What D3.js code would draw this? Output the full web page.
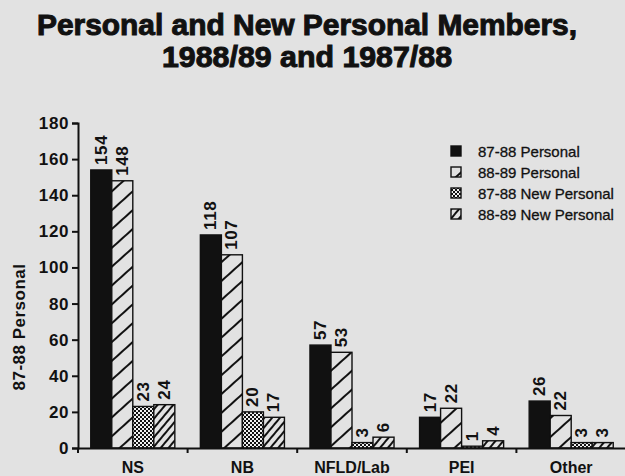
<!DOCTYPE html>
<html><head><meta charset="utf-8">
<script src="https://cdn.jsdelivr.net/npm/d3@7"></script>
<style>
html,body{margin:0;padding:0;background:#e2e2e2;}
svg{display:block;}
text{font-family:"Liberation Sans",Arial,Helvetica,sans-serif;fill:#111;}
</style></head>
<body>
<svg id="chart" width="625" height="476"></svg>
<script>
// ---- data ----
const categories = ["NS", "NB", "NFLD/Lab", "PEI", "Other"];
const seriesNames = ["87-88 Personal", "88-89 Personal", "87-88 New Personal", "88-89 New Personal"];
const personal8788 = [154, 118, 57, 17, 26];
const personal8889 = [148, 107, 53, 22, 18];      // bar heights as drawn
const personal8889Labels = ["148", "107", "53", "22", "22"]; // printed labels
const newPersonal8788 = [23, 20, 3, 1, 3];
const newPersonal8889 = [24, 17, 6, 4, 3];
const yTicks = [0, 20, 40, 60, 80, 100, 120, 140, 160, 180];
const titleLines = ["Personal and New Personal Members,", "1988/89 and 1987/88"];
const yTitle = "87-88 Personal";

const seriesValues = [personal8788, personal8889, newPersonal8788, newPersonal8889];
const seriesLabels = [personal8788.map(String), personal8889Labels, newPersonal8788.map(String), newPersonal8889.map(String)];

const svg = d3.select("#chart");
const bg = "#e2e2e2";
const ink = "#111";

// patterns
const defs = svg.append("defs");
function hatch(id, spacing, angle, sw) {
  const p = defs.append("pattern").attr("id", id).attr("patternUnits", "userSpaceOnUse")
    .attr("width", 40).attr("height", spacing).attr("patternTransform", `rotate(${angle})`);
  p.append("rect").attr("width", 40).attr("height", spacing).attr("fill", bg);
  p.append("line").attr("x1", 0).attr("x2", 40).attr("y1", spacing / 2).attr("y2", spacing / 2)
    .attr("stroke", ink).attr("stroke-width", sw);
}
hatch("hatchWide", 14, -42, 2);
hatch("hatchDense", 6, -50, 1.8);
const chk = defs.append("pattern").attr("id", "checker").attr("patternUnits", "userSpaceOnUse")
  .attr("width", 4).attr("height", 4);
chk.append("rect").attr("width", 4).attr("height", 4).attr("fill", "#f0f0f0");
chk.append("rect").attr("width", 2).attr("height", 2).attr("fill", ink);
chk.append("rect").attr("x", 2).attr("y", 2).attr("width", 2).attr("height", 2).attr("fill", ink);

const fills = [ink, "url(#hatchWide)", "url(#checker)", "url(#hatchDense)"];

// scales
const x = d3.scaleBand().domain(categories).range([78, 626]).paddingInner(0.233).paddingOuter(0.1165);
const xs = d3.scaleBand().domain(seriesNames).range([0, x.bandwidth()]);
const y = d3.scaleLinear().domain([0, 180]).range([448, 123]);

// title
svg.append("text").attr("x", 307).attr("y", 35).attr("text-anchor", "middle")
  .attr("font-size", 29).attr("font-weight", "bold").attr("stroke", ink).attr("stroke-width", 1)
  .attr("textLength", 540).attr("lengthAdjust", "spacingAndGlyphs").text(titleLines[0]);
svg.append("text").attr("x", 307).attr("y", 67).attr("text-anchor", "middle")
  .attr("font-size", 29).attr("font-weight", "bold").attr("stroke", ink).attr("stroke-width", 1)
  .attr("textLength", 290).attr("lengthAdjust", "spacingAndGlyphs").text(titleLines[1]);

// bars
const rows = [];
categories.forEach((c, ci) => seriesNames.forEach((s, si) => {
  rows.push({ c, s, si, v: seriesValues[si][ci], label: seriesLabels[si][ci] });
}));
svg.append("g").selectAll("rect").data(rows).join("rect")
  .attr("x", d => x(d.c) + xs(d.s))
  .attr("y", d => y(d.v))
  .attr("width", xs.bandwidth())
  .attr("height", d => y(0) - y(d.v))
  .attr("fill", d => fills[d.si])
  .attr("stroke", ink).attr("stroke-width", 1.4);

// value labels
svg.append("g").selectAll("text").data(rows).join("text")
  .attr("transform", d => `translate(${x(d.c) + xs(d.s) + xs.bandwidth() / 2},${y(d.v) - 5}) rotate(-90)`)
  .attr("dominant-baseline", "central")
  .attr("text-anchor", "start")
  .attr("font-size", 17).attr("font-weight", "bold").attr("letter-spacing", 0.6)
  .text(d => d.label);

// y axis
const yAxis = svg.append("g").attr("transform", "translate(78,0)")
  .call(d3.axisLeft(y).tickValues(yTicks).tickSize(6).tickPadding(3));
yAxis.select(".domain").attr("stroke", ink).attr("stroke-width", 2);
yAxis.selectAll(".tick line").attr("stroke", ink).attr("stroke-width", 2);
yAxis.selectAll(".tick text").attr("font-size", 17).attr("font-weight", "bold")
  .attr("font-family", "Liberation Sans, Arial, sans-serif").attr("fill", ink).attr("letter-spacing", 0.6);

// x axis
const xAxis = svg.append("g").attr("transform", `translate(0,${y(0)})`)
  .call(d3.axisBottom(x).tickSize(0));
xAxis.select(".domain").attr("stroke", ink).attr("stroke-width", 2);
xAxis.selectAll(".tick text").attr("y", 25).attr("dy", 0).attr("font-size", 16).attr("font-weight", "bold")
  .attr("font-family", "Liberation Sans, Arial, sans-serif").attr("fill", ink);
// boundary ticks between categories
const bounds = categories.map(c => x(c) - x.step() * x.paddingInner() / 2 - (c === categories[0] ? x.step() * (x.paddingOuter() - x.paddingInner() / 2) : 0));
xAxis.selectAll(".bound").data(bounds).join("line").attr("class", "bound")
  .attr("x1", d => d).attr("x2", d => d).attr("y1", 0).attr("y2", 5)
  .attr("stroke", ink).attr("stroke-width", 2);

// y title
svg.append("text").attr("transform", "translate(19,327) rotate(-90)")
  .attr("text-anchor", "middle").attr("dominant-baseline", "central")
  .attr("font-size", 17).attr("font-weight", "bold").attr("letter-spacing", 0.5).text(yTitle);

// legend
const lg = svg.append("g").attr("transform", "translate(451,151)");
seriesNames.forEach((s, i) => {
  const g = lg.append("g").attr("transform", `translate(0,${i * 21})`);
  g.append("rect").attr("x", 0).attr("y", -5).attr("width", 10).attr("height", 10)
    .attr("fill", fills[i]).attr("stroke", ink).attr("stroke-width", 1.4);
  g.append("text").attr("x", 27).attr("y", 0).attr("dominant-baseline", "central")
    .attr("font-size", 15).attr("stroke", ink).attr("stroke-width", 0.3).text(s);
});
</script>
</body></html>
